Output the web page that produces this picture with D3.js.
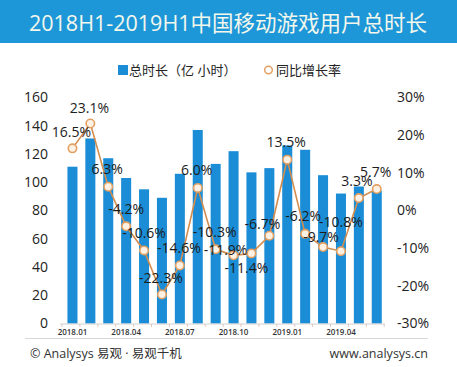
<!DOCTYPE html>
<html>
<head>
<meta charset="utf-8">
<script src="https://cdn.jsdelivr.net/npm/d3@7"></script>
<style>
  html, body { margin: 0; padding: 0; background: #fff; }
  svg { display: block; }
  text { font-family: "Open Sans", "Noto Sans CJK SC", sans-serif; }
</style>
</head>
<body>
<div id="chart"></div>
<script>
// data
var months = ["2018.01", "2018.02", "2018.03", "2018.04", "2018.05", "2018.06",
              "2018.07", "2018.08", "2018.09", "2018.10", "2018.11", "2018.12",
              "2019.01", "2019.02", "2019.03", "2019.04", "2019.05", "2019.06"];
var hours = [111, 131, 117, 103, 95, 89, 106, 137, 113, 122, 107, 110, 126, 123, 105, 92, 97, 94];
var growth = [16.5, 23.1, 6.3, -4.2, -10.6, -22.3, -14.6, 6.0, -10.3, -11.9, -11.4, -6.7, 13.5, -6.2, -9.7, -10.8, 3.3, 5.7];
var shownMonths = ["2018.01", "2018.04", "2018.07", "2018.10", "2019.01", "2019.04"];
var leftTicks = [0, 20, 40, 60, 80, 100, 120, 140, 160];
var rightTicks = [-30, -20, -10, 0, 10, 20, 30];

// label nudges so they sit like the original (dx, dy from the point)
var labelShift = [[-1, -17], [-1, -16], [-1, -18], [0, -18], [0, -18], [-1, -17], [-1, -18], [-1, -18], [-1, -18],
                  [-8, -6], [-5, 14], [-7, -12], [-1, -18], [-2, -18], [-2, -11], [0, -30], [-2, -18], [-1, -18]];

var width = 457, height = 367;
var blue = "#1a8dd6";

var svg = d3.select("#chart").append("svg")
    .attr("width", width)
    .attr("height", height);

// title bar
svg.append("rect")
    .attr("x", 0).attr("y", 0)
    .attr("width", width).attr("height", 43)
    .attr("fill", "#1e97d9");
svg.append("text")
    .attr("x", 228).attr("y", 22)
    .attr("text-anchor", "middle")
    .attr("dominant-baseline", "central")
    .attr("font-size", 21.5)
    .attr("fill", "#f3f7ec")
    .text("2018H1-2019H1中国移动游戏用户总时长");

// legend
var legend = svg.append("g").attr("font-size", 13).attr("fill", "#222");
legend.append("rect").attr("x", 118).attr("y", 65).attr("width", 10).attr("height", 10).attr("fill", blue);
legend.append("text").attr("x", 129).attr("y", 70).attr("dominant-baseline", "central").text("总时长（亿 小时）");
legend.append("circle").attr("cx", 268.5).attr("cy", 70).attr("r", 3.8)
    .attr("fill", "#fff").attr("stroke", "#e3a062").attr("stroke-width", 1.5);
legend.append("text").attr("x", 276).attr("y", 70).attr("dominant-baseline", "central").text("同比增长率");

// scales
var x = d3.scaleBand()
    .domain(months)
    .range([63.5, 385.7])
    .paddingInner(0.44)
    .paddingOuter(0.22);

var yLeft = d3.scaleLinear().domain([0, 160]).range([323.5, 97.5]);
var yRight = d3.scaleLinear().domain([-30, 30]).range([323.5, 97.5]);

// left axis
var leftAxis = svg.append("g")
    .attr("transform", "translate(48,0)")
    .call(d3.axisLeft(yLeft).tickValues(leftTicks).tickSize(0).tickPadding(0));
leftAxis.select(".domain").remove();
leftAxis.selectAll("text")
    .attr("font-size", 14)
    .attr("fill", "#222")
    .style("font-family", "'Open Sans', sans-serif");

// right axis
var rightAxis = svg.append("g")
    .attr("transform", "translate(397,0)")
    .call(d3.axisRight(yRight).tickValues(rightTicks).tickSize(0).tickPadding(0)
        .tickFormat(function (d) { return d + "%"; }));
rightAxis.select(".domain").remove();
rightAxis.selectAll("text")
    .attr("font-size", 14)
    .attr("fill", "#222")
    .style("font-family", "'Open Sans', sans-serif");

// bars
svg.append("g").selectAll("rect")
    .data(hours)
    .enter().append("rect")
    .attr("x", function (d, i) { return x(months[i]); })
    .attr("y", function (d) { return yLeft(d); })
    .attr("width", x.bandwidth())
    .attr("height", function (d) { return yLeft(0) - yLeft(d); })
    .attr("fill", blue);

// x axis line, small ticks between months, sparse labels
svg.append("line")
    .attr("x1", 60).attr("x2", 385)
    .attr("y1", 324).attr("y2", 324)
    .attr("stroke", "#d0d0d0").attr("stroke-width", 1);

svg.append("g").selectAll("line")
    .data(months.concat(["end"]))
    .enter().append("line")
    .attr("x1", function (d, i) { return x.range()[0] + x.step() * i - 1.5; })
    .attr("x2", function (d, i) { return x.range()[0] + x.step() * i - 1.5; })
    .attr("y1", 324).attr("y2", 327)
    .attr("stroke", "#e0c8c0").attr("stroke-width", 1);

var xAxis = svg.append("g")
    .attr("transform", "translate(0,324)")
    .call(d3.axisBottom(x).tickValues(shownMonths).tickSize(0).tickPadding(5));
xAxis.select(".domain").remove();
xAxis.selectAll("text")
    .attr("font-size", 8)
    .attr("font-weight", 600)
    .attr("fill", "#333")
    .style("font-family", "'Open Sans', sans-serif");

// growth line
var cx = function (d, i) { return x(months[i]) + x.bandwidth() / 2; };
var line = d3.line()
    .x(cx)
    .y(function (d) { return yRight(d); });

svg.append("path")
    .datum(growth)
    .attr("d", line)
    .attr("fill", "none")
    .attr("stroke", "#d38d4f")
    .attr("stroke-width", 1.6);

svg.append("g").selectAll("circle")
    .data(growth)
    .enter().append("circle")
    .attr("cx", cx)
    .attr("cy", function (d) { return yRight(d); })
    .attr("r", 4.2)
    .attr("fill", "#fdf1e4")
    .attr("stroke", "#e3a062")
    .attr("stroke-width", 1.6);

svg.append("g").selectAll("text")
    .data(growth)
    .enter().append("text")
    .attr("x", function (d, i) { return cx(d, i) + labelShift[i][0]; })
    .attr("y", function (d, i) { return yRight(d) + labelShift[i][1]; })
    .attr("text-anchor", "middle")
    .attr("dominant-baseline", "central")
    .attr("font-size", 14)
    .attr("fill", "#1c1c1c")
    .text(function (d) { return d.toFixed(1) + "%"; });

// footer
svg.append("line")
    .attr("x1", 25).attr("x2", 428)
    .attr("y1", 338.5).attr("y2", 338.5)
    .attr("stroke", "#d8d8d8").attr("stroke-width", 1);

svg.append("text")
    .attr("x", 30).attr("y", 353)
    .attr("dominant-baseline", "central")
    .attr("font-size", 12.5)
    .attr("fill", "#333")
    .text("© Analysys 易观 · 易观千机");

svg.append("text")
    .attr("x", 428).attr("y", 353)
    .attr("text-anchor", "end")
    .attr("dominant-baseline", "central")
    .attr("font-size", 12.5)
    .attr("fill", "#333")
    .text("www.analysys.cn");
</script>
</body>
</html>
